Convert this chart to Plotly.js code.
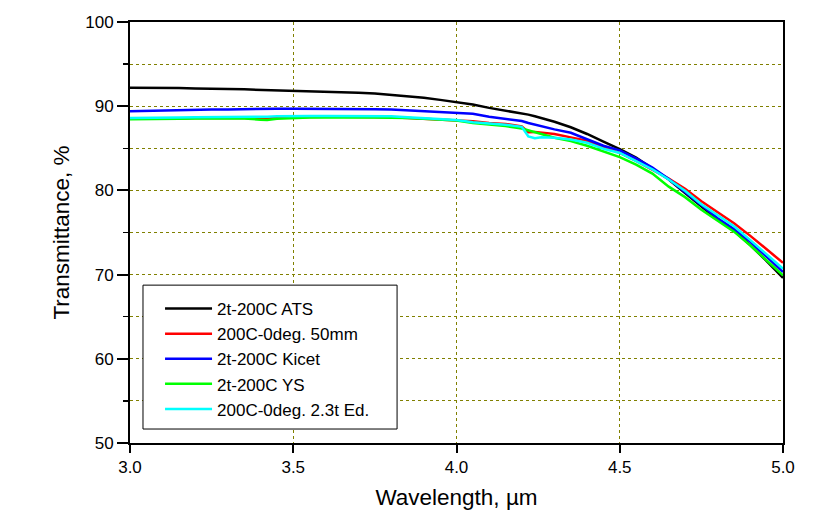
<!DOCTYPE html>
<html>
<head>
<meta charset="utf-8">
<script src="https://cdn.plot.ly/plotly-3.0.1.min.js"></script>
<style>html,body{margin:0;padding:0;background:#fff;}#chart{width:830px;height:528px;}</style>
</head>
<body>
<div id="chart"></div>
<script>
// Wavelength (µm)
const wavelength = [3.00,3.05,3.10,3.15,3.20,3.25,3.30,3.35,3.40,3.42,3.45,3.50,3.55,3.60,3.65,3.70,3.75,3.80,3.85,3.90,3.95,4.00,4.05,4.10,4.15,4.20,4.22,4.24,4.26,4.30,4.35,4.40,4.45,4.50,4.55,4.60,4.65,4.70,4.75,4.80,4.85,4.90,4.95,5.00];

// Transmittance (%)
const ats = [92.2,92.2,92.2,92.15,92.1,92.1,92.05,92.0,91.95,91.9,91.9,91.85,91.8,91.75,91.7,91.6,91.5,91.35,91.2,91.0,90.75,90.5,90.2,89.8,89.5,89.15,89.0,88.8,88.6,88.15,87.5,86.7,85.8,84.9,83.9,82.65,81.3,79.7,78.1,76.5,75.2,73.5,71.6,69.6];
const deg50mm = [88.5,88.5,88.55,88.55,88.6,88.6,88.65,88.65,88.6,88.5,88.65,88.7,88.75,88.75,88.75,88.75,88.7,88.7,88.6,88.5,88.4,88.3,88.2,88.0,87.9,87.6,86.9,86.95,86.85,86.7,86.3,85.9,85.2,84.45,83.5,82.5,81.4,80.2,78.7,77.4,76.1,74.6,73.0,71.4];
const kicet = [89.4,89.45,89.5,89.5,89.55,89.6,89.6,89.65,89.65,89.65,89.7,89.7,89.7,89.7,89.7,89.7,89.65,89.6,89.5,89.4,89.3,89.2,89.1,88.75,88.5,88.25,88.0,87.8,87.6,87.25,86.85,86.1,85.3,84.75,83.8,82.7,81.35,79.8,78.3,76.7,75.4,73.9,72.1,70.3];
const ys = [88.45,88.45,88.5,88.5,88.55,88.55,88.6,88.55,88.4,88.35,88.5,88.6,88.65,88.65,88.7,88.7,88.65,88.65,88.6,88.5,88.4,88.3,88.0,87.8,87.65,87.35,87.15,86.95,86.7,86.25,85.85,85.3,84.6,83.95,83.05,82.0,80.45,79.2,77.7,76.4,75.1,73.45,71.7,69.9];
const ed23t = [88.6,88.6,88.65,88.65,88.7,88.7,88.75,88.75,88.75,88.75,88.8,88.85,88.85,88.85,88.85,88.85,88.8,88.8,88.7,88.6,88.45,88.35,88.1,87.95,87.8,87.55,86.4,86.2,86.3,86.25,86.05,85.65,84.95,84.45,83.5,82.5,81.3,79.95,78.35,77.05,75.75,74.1,72.4,70.7];

const seriesNames = ["2t-200C ATS","200C-0deg. 50mm","2t-200C Kicet","2t-200C YS","200C-0deg. 2.3t Ed."];
const seriesValues = [ats, deg50mm, kicet, ys, ed23t];
const seriesColors = ["#000000","#ff0000","#0000ff","#00ff00","#00ffff"];

const xTicks = [3.0,3.5,4.0,4.5,5.0];
const xTickText = ["3.0","3.5","4.0","4.5","5.0"];
const yTicks = [50,60,70,80,90,100];

const traces = seriesValues.map((vals, i) => ({
  x: wavelength, y: vals, type: "scatter", mode: "lines",
  name: seriesNames[i],
  line: {color: seriesColors[i], width: 2.5}
}));
const gridColor = "#808000";
const layout = {
  width: 830, height: 528,
  margin: {l: 130, r: 47, t: 21.5, b: 85},
  paper_bgcolor: "#ffffff", plot_bgcolor: "#ffffff",
  font: {family: "Arial, 'Liberation Sans', sans-serif", color: "#000", size: 17},
  showlegend: true,
  xaxis: {
    range: [3.0, 5.0], tickvals: xTicks, ticktext: xTickText,
    showline: true, linecolor: "#000", linewidth: 2, mirror: true,
    ticks: "outside", ticklen: 8, tickwidth: 2, tickcolor: "#000",
    showgrid: true, gridcolor: gridColor, griddash: "dot", gridwidth: 1,
    zeroline: false, tickfont: {size: 17},
    title: {text: "Wavelength, µm", font: {size: 22.5}, standoff: 13}
  },
  yaxis: {
    range: [50, 100], tickvals: yTicks,
    showline: true, linecolor: "#000", linewidth: 2, mirror: true,
    ticks: "outside", ticklen: 11, tickwidth: 2, tickcolor: "#000",
    showgrid: true, gridcolor: gridColor, griddash: "dot", gridwidth: 1,
    minor: {dtick: 5, ticks: "outside", ticklen: 5, tickwidth: 1.5, tickcolor: "#000",
            showgrid: true, gridcolor: gridColor, griddash: "dot", gridwidth: 1},
    zeroline: false, tickfont: {size: 17},
    title: {text: "Transmittance, %", font: {size: 22.5}, standoff: 9}
  },
  shapes: [{
    type: "rect", xref: "paper", yref: "paper",
    x0: 0.0199, x1: 0.409, y0: 0.0332, y1: 0.375,
    fillcolor: "#ffffff", line: {color: "#000", width: 1}, layer: "above"
  }],
  legend: {
    x: 0.046, y: 0.361, xanchor: "left", yanchor: "top",
    bgcolor: "rgba(0,0,0,0)", borderwidth: 0,
    font: {size: 17, color: "#000"}, itemwidth: 47,
    tracegroupgap: 0
  }
};
Plotly.newPlot("chart", traces, layout, {displayModeBar: false, staticPlot: true});
</script>
</body>
</html>
